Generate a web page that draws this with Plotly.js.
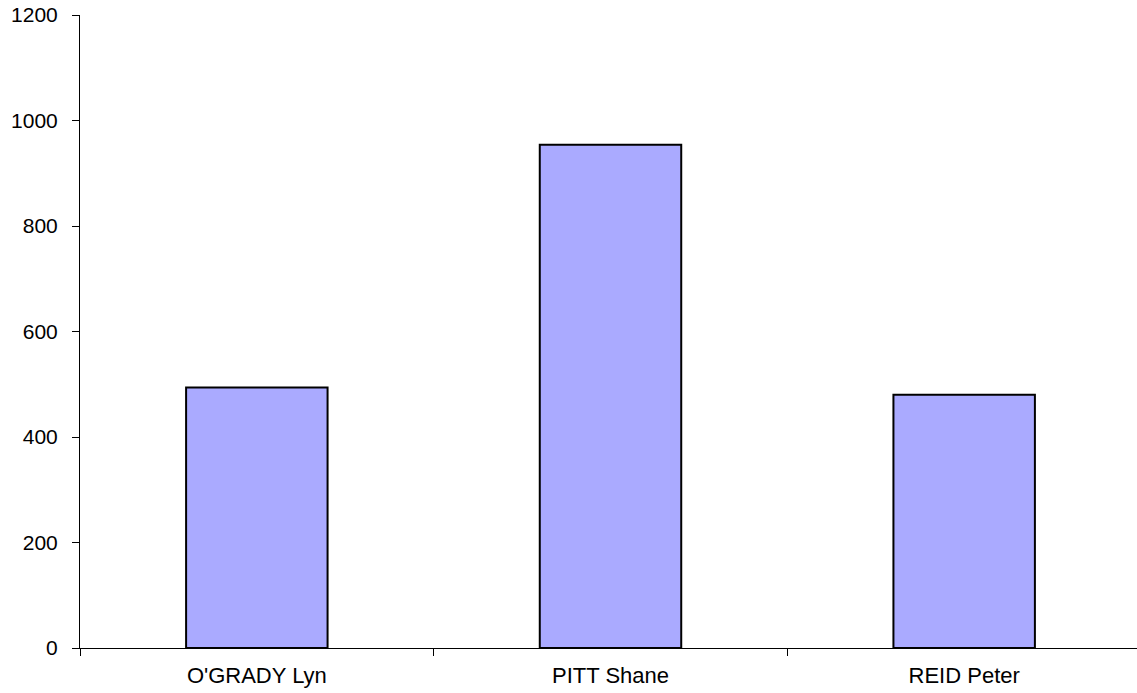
<!DOCTYPE html>
<html>
<head>
<meta charset="utf-8">
<script src="https://cdn.plot.ly/plotly-3.0.1.min.js"></script>
<style>
html, body { margin: 0; padding: 0; overflow: hidden; background: #fff; }
#chart { width: 1141px; height: 693px; }
</style>
</head>
<body>
<div id="chart"></div>
<script>
const categories = ["O'GRADY Lyn", "PITT Shane", "REID Peter"];
const values = [494, 954, 480];
const yTickValues = [0, 200, 400, 600, 800, 1000, 1200];

const trace = {
  type: 'bar',
  x: categories,
  y: values,
  marker: { color: '#aaaaff', line: { color: '#000000', width: 2 } },
  hoverinfo: 'x+y'
};

const layout = {
  width: 1141,
  height: 693,
  margin: { l: 80, r: 0, t: 15, b: 45, pad: 0 },
  paper_bgcolor: '#ffffff',
  plot_bgcolor: '#ffffff',
  showlegend: false,
  bargap: 0.6,
  font: { family: 'Liberation Sans, Arial, sans-serif', size: 21, color: '#000' },
  xaxis: {
    type: 'category',
    showline: true, linecolor: '#000', linewidth: 1,
    ticks: 'outside', tickson: 'boundaries', ticklen: 7, tickcolor: '#000', tickwidth: 1,
    showgrid: false, zeroline: false,
    tickfont: { size: 22 },
    ticklabelstandoff: 8
  },
  yaxis: {
    range: [0, 1200],
    tickvals: yTickValues,
    ticktext: yTickValues.map(String),
    showline: true, linecolor: '#000', linewidth: 1,
    ticks: 'outside', ticklen: 7, tickcolor: '#000', tickwidth: 1,
    showgrid: false, zeroline: false,
    tickfont: { size: 21 },
    ticklabelstandoff: 10
  }
};

Plotly.newPlot('chart', [trace], layout, { displayModeBar: false, staticPlot: true });
</script>
</body>
</html>
